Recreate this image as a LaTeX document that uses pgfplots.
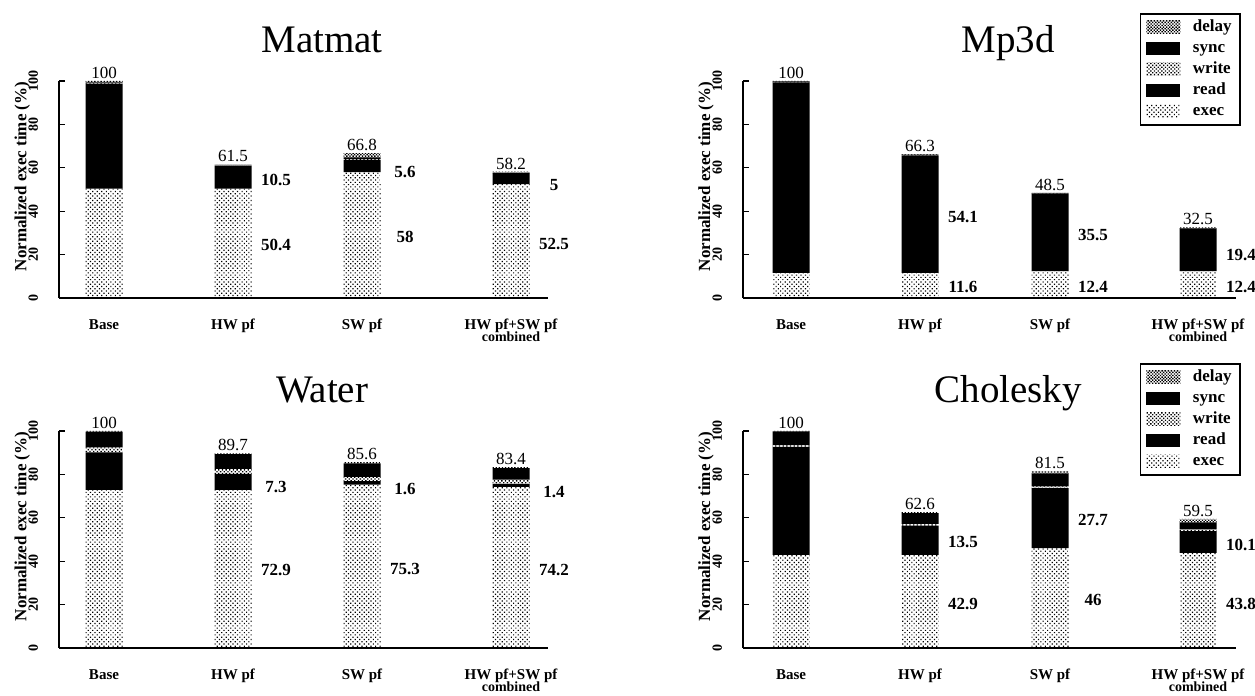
\documentclass[border=0pt]{standalone}
\usepackage{fontspec}
\setmainfont{Liberation Serif}
\usepackage{pgfplots}
\pgfplotsset{compat=1.18}
\usepackage{pgfplotstable}
\usetikzlibrary{patterns.meta}

\pgfplotstableread{
x exec read write sync delay
45  50.4 48.4 0.4 0.4 0.4
174 50.4 10.5 0.2 0.2 0.2
303 58.0 5.6  0.4 0.8 2.0
452 52.5 5.0  0.1 0.1 0.5
}\matmat
\pgfplotstableread{
x exec read write sync delay
48  11.6 87.8 0.2 0.2 0.2
177 11.6 54.1 0.2 0.2 0.2
307 12.4 35.5 0.2 0.2 0.2
455 12.4 19.4 0.2 0.2 0.3
}\mpthreed
\pgfplotstableread{
x exec read write sync delay
45  72.9 17.3 2.2 7.3 0.3
174 72.9 7.3  2.3 6.8 0.4
303 75.3 1.6  2.0 6.2 0.5
452 74.2 1.4  2.0 5.3 0.5
}\water
\pgfplotstableread{
x exec read write sync delay
48  42.9 49.8 0.8 6.3 0.2
177 42.9 13.5 0.8 5.0 0.4
307 46.0 27.7 0.8 6.0 1.0
455 43.8 10.1 0.8 3.2 1.6
}\cholesky

\pgfplotsset{
  execst/.style={draw=none, pattern={Dots[distance=1.6pt, radius=0.42pt, angle=45]}, pattern color=black},
  readst/.style={draw=none, fill=black},
  writest/.style={draw=none, pattern={Dots[distance=1.3pt, radius=0.47pt, angle=45]}, pattern color=black},
  syncst/.style={draw=none, fill=black},
  delayst/.style={draw=none, pattern={Dots[distance=1.1pt, radius=0.5pt, angle=45]}, pattern color=black},
  panel/.style={
    scale only axis, height=108.5pt,
    ymin=0, ymax=100, xmin=0,
    ybar stacked, bar width=37,
    axis lines*=left,
    axis line style={line width=0.8pt},
    ytick={0,20,...,100},
    major x tick style={draw=none},
    tick align=inside, major tick length=3pt,
    major y tick style={line width=0.6pt, black},
    /pgf/number format/assume math mode=true,
    yticklabel style={rotate=90, anchor=south, font=\fontsize{7}{8}\selectfont\bfseries},
    yticklabel shift=7pt,
    xticklabels={Base,HW pf,SW pf,{HW pf+SW pf\\[-3pt]{\fontsize{7}{8}\selectfont combined}}},
    xticklabel style={font=\fontsize{7.5}{9}\selectfont\bfseries, align=center, anchor=north, inner sep=0.5pt, yshift=-10pt},
    ylabel={Normalized exec time (\%)},
    every axis y label/.style={at={(axis description cs:-0.075,0.56)}, rotate=90, anchor=center, font=\fontsize{8.5}{10}\selectfont\bfseries},
    clip=false,
    legend image code/.code={\fill[##1] (0pt,-3.3pt) rectangle (17pt,3.3pt);},
    reverse legend,
    legend style={at={(1.01,1.313)}, anchor=north east, draw=black, line width=0.75pt,
      font=\fontsize{8.5}{9}\selectfont\bfseries, row sep=0pt, inner xsep=3pt, inner ysep=1.5pt,
      nodes={inner sep=1.25pt, text height=6pt, text depth=2pt, anchor=west},
      /tikz/every odd column/.append style={column sep=5pt},
      legend cell align=left},
  },
  leftpanel/.style={panel, width=244.5pt, xmax=489, xtick={45,174,303,452}},
  rightpanel/.style={panel, width=246.5pt, xmax=493, xtick={48,177,307,455}},
}
\newcommand{\bars}[1]{%
  \addplot[execst] table[x=x,y=exec]{#1};
  \addplot[readst] table[x=x,y=read]{#1};
  \addplot[writest] table[x=x,y=write]{#1};
  \addplot[syncst] table[x=x,y=sync]{#1};
  \addplot[delayst] table[x=x,y=delay]{#1};
}
\newcommand{\tot}[3]{\node[anchor=south, inner sep=1pt, font=\fontsize{8.5}{10}\selectfont] at (axis cs:#1,#2) {#3};}
\newcommand{\side}[3]{\node[anchor=center, inner sep=0pt, font=\fontsize{8.5}{10}\selectfont\bfseries] at (axis cs:#1,#2) {#3};}
\newcommand{\ttl}[1]{\node[anchor=base, font=\fontsize{19.5}{22}\selectfont] at (axis description cs:0.538,1.13) {#1};}

\begin{document}
\begin{tikzpicture}
\useasboundingbox (0,0) rectangle (627.5pt,348pt);
% Matmat
\begin{axis}[leftpanel, at={(29.5pt,199pt)}, anchor=south west]
\bars{\matmat}
\ttl{Matmat}
\tot{45}{100}{100}\tot{174}{61.5}{61.5}\tot{303}{66.8}{66.8}\tot{452}{58.2}{58.2}
\side{217}{54.3}{10.5}\side{217}{24.4}{50.4}
\side{346}{58.1}{5.6}\side{346}{28.1}{58}
\side{495}{51.9}{5}\side{495}{25.0}{52.5}
\end{axis}
% Mp3d
\begin{axis}[rightpanel, at={(371.5pt,199pt)}, anchor=south west]
\bars{\mpthreed}
\legend{exec,read,write,sync,delay}
\ttl{Mp3d}
\tot{48}{100}{100}\tot{177}{66.3}{66.3}\tot{307}{48.5}{48.5}\tot{455}{32.5}{32.5}
\side{220}{37.3}{54.1}\side{220}{5}{11.6}
\side{350}{28.9}{35.5}\side{350}{5}{12.4}
\side{498}{19.7}{19.4}\side{498}{5}{12.4}
\end{axis}
% Water
\begin{axis}[leftpanel, at={(29.5pt,24pt)}, anchor=south west]
\bars{\water}
\ttl{Water}
\tot{45}{100}{100}\tot{174}{89.7}{89.7}\tot{303}{85.6}{85.6}\tot{452}{83.4}{83.4}
\side{217}{74.2}{7.3}\side{217}{36}{72.9}
\side{346}{73.2}{1.6}\side{346}{36.4}{75.3}
\side{495}{72}{1.4}\side{495}{36}{74.2}
\end{axis}
% Cholesky
\begin{axis}[rightpanel, at={(371.5pt,24pt)}, anchor=south west]
\bars{\cholesky}
\legend{exec,read,write,sync,delay}
\ttl{Cholesky}
\tot{48}{100}{100}\tot{177}{62.6}{62.6}\tot{307}{81.5}{81.5}\tot{455}{59.5}{59.5}
\side{220}{48.9}{13.5}\side{220}{20.1}{42.9}
\side{350}{59}{27.7}\side{350}{22.1}{46}
\side{498}{47.7}{10.1}\side{498}{20.1}{43.8}
\end{axis}
\end{tikzpicture}
\end{document}
